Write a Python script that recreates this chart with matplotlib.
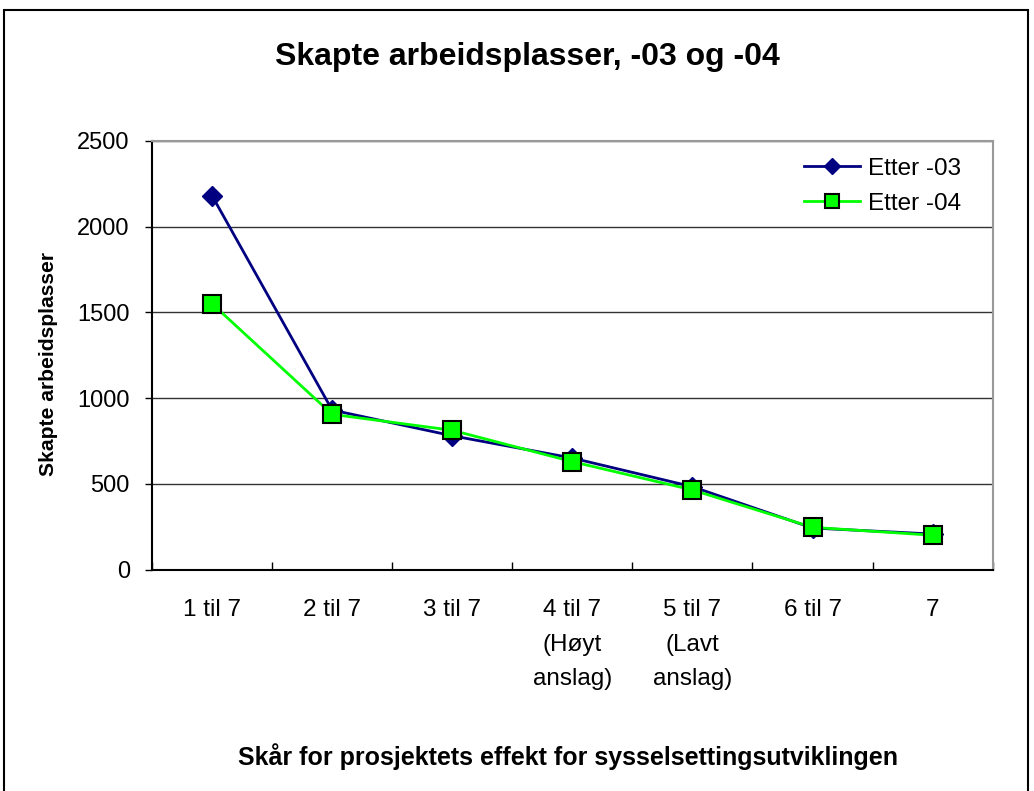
import matplotlib.pyplot as plt
from matplotlib.patches import Rectangle

plt.rcParams['font.family'] = ['Liberation Sans', 'DejaVu Sans']

# Categories and values for the two series
categories = ["1 til 7", "2 til 7", "3 til 7", "4 til 7\n(Høyt\nanslag)",
              "5 til 7\n(Lavt\nanslag)", "6 til 7", "7"]
etter_03 = [2180, 930, 780, 650, 483, 242, 207]
etter_04 = [1550, 905, 812, 629, 464, 246, 200]

fig = plt.figure(figsize=(10.34, 7.91), dpi=100)
ax = fig.add_axes([0.147, 0.280, 0.813, 0.542])

x = range(len(categories))
ax.plot(x, etter_03, color="#000080", lw=2, marker="D", ms=10.5,
        mfc="#000080", mec="#000080", label="Etter -03", zorder=3)
ax.plot(x, etter_04, color="#00ff00", lw=2, marker="s", ms=12.5,
        mfc="#00ff00", mec="black", mew=1.5, label="Etter -04", zorder=4)

ax.set_xlim(-0.5, len(categories) - 0.5)
ax.set_ylim(0, 2500)
ax.set_yticks(range(0, 2501, 500))
# category boundaries get the tick marks, labels sit between them
ax.set_xticks([i - 0.5 for i in range(len(categories) + 1)], minor=False)
ax.set_xticklabels([])
ax.set_xticks(list(x), minor=True)
ax.set_xticklabels(categories, minor=True, fontsize=17.5, linespacing=1.72, va="top")
ax.tick_params(axis="x", which="minor", length=0, pad=21.5)
ax.tick_params(axis="x", which="major", length=6, direction="in", width=1)
ax.tick_params(axis="y", length=5, direction="out", width=1, labelsize=17, pad=11)

ax.grid(axis="y", color="#333333", lw=1)
ax.set_axisbelow(True)
for side in ["left", "bottom"]:
    ax.spines[side].set_color("black")
    ax.spines[side].set_linewidth(1.5)
for side in ["top", "right"]:
    ax.spines[side].set_color("#999999")
    ax.spines[side].set_linewidth(1.5)

ax.set_ylabel("Skapte arbeidsplasser", fontsize=15.2, fontweight="bold")
ax.yaxis.set_label_coords(-0.1115, 0.48)
fig.text(0.549, 0.043, "Skår for prosjektets effekt for sysselsettingsutviklingen",
         ha="center", va="center", fontsize=18, fontweight="bold")
fig.text(0.51, 0.928, "Skapte arbeidsplasser, -03 og -04",
         ha="center", va="center", fontsize=23, fontweight="bold")

ax.legend(loc="upper right", frameon=False, fontsize=17.5, markerscale=0.8,
          handlelength=2.3, handletextpad=0.3, labelspacing=0.55,
          bbox_to_anchor=(0.988, 1.012))

# Outer chart border
fig.patches.append(Rectangle((0.004, -0.01), 0.99, 0.997, transform=fig.transFigure,
                             fill=False, edgecolor="black", lw=1.5))

fig.savefig("out.png", dpi=100)
